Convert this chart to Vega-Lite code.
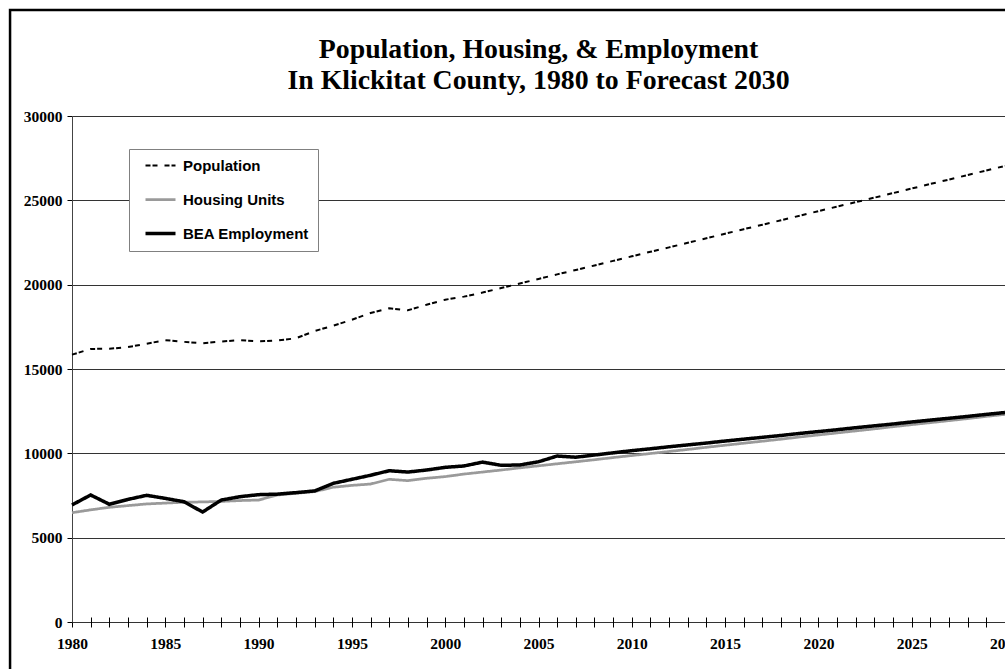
{
  "$schema": "https://vega.github.io/schema/vega-lite/v6.json",
  "width": 933,
  "height": 506,
  "autosize": {"type": "none"},
  "padding": {"left": 72, "top": 116, "right": 0, "bottom": 47},
  "background": "white",
  "title": {
    "text": ["Population, Housing, & Employment", "In Klickitat County, 1980 to Forecast 2030"],
    "font": "Liberation Serif",
    "fontSize": 27.8,
    "fontWeight": "bold",
    "color": "black",
    "anchor": "middle",
    "lineHeight": 31,
    "offset": 0,
    "dy": 86
  },
  "config": {
    "view": {"stroke": null},
    "axis": {
      "labelFont": "Liberation Serif",
      "labelFontWeight": "bold",
      "labelFontSize": 15.5,
      "labelColor": "black",
      "tickColor": "black",
      "domainColor": "#444444",
      "gridColor": "#333333",
      "title": null
    },
    "legend": {
      "orient": "none",
      "legendX": 57,
      "legendY": 33,
      "fillColor": "white",
      "strokeColor": "#808080",
      "padding": 9,
      "labelFont": "Liberation Sans",
      "labelFontWeight": "bold",
      "labelFontSize": 15,
      "labelColor": "black",
      "symbolType": "M0,0H6",
      "symbolSize": 100,
      "rowPadding": 18,
      "labelOffset": 30,
      "title": null
    }
  },
  "data": {
    "values": [
      {"year": 1980, "Population": 15850, "Housing Units": 6480, "BEA Employment": 6940},
      {"year": 1981, "Population": 16190, "Housing Units": 6650, "BEA Employment": 7530},
      {"year": 1982, "Population": 16200, "Housing Units": 6800, "BEA Employment": 6980},
      {"year": 1983, "Population": 16300, "Housing Units": 6900, "BEA Employment": 7270},
      {"year": 1984, "Population": 16500, "Housing Units": 7000, "BEA Employment": 7510},
      {"year": 1985, "Population": 16710, "Housing Units": 7050, "BEA Employment": 7330},
      {"year": 1986, "Population": 16610, "Housing Units": 7100, "BEA Employment": 7130},
      {"year": 1987, "Population": 16530, "Housing Units": 7120, "BEA Employment": 6520},
      {"year": 1988, "Population": 16630, "Housing Units": 7150, "BEA Employment": 7230},
      {"year": 1989, "Population": 16710, "Housing Units": 7200, "BEA Employment": 7430},
      {"year": 1990, "Population": 16640, "Housing Units": 7230, "BEA Employment": 7550},
      {"year": 1991, "Population": 16690, "Housing Units": 7530, "BEA Employment": 7580},
      {"year": 1992, "Population": 16820, "Housing Units": 7630, "BEA Employment": 7670},
      {"year": 1993, "Population": 17250, "Housing Units": 7730, "BEA Employment": 7770},
      {"year": 1994, "Population": 17570, "Housing Units": 7990, "BEA Employment": 8220},
      {"year": 1995, "Population": 17920, "Housing Units": 8100, "BEA Employment": 8460},
      {"year": 1996, "Population": 18320, "Housing Units": 8180, "BEA Employment": 8700},
      {"year": 1997, "Population": 18600, "Housing Units": 8460, "BEA Employment": 8970},
      {"year": 1998, "Population": 18480, "Housing Units": 8380, "BEA Employment": 8890},
      {"year": 1999, "Population": 18810, "Housing Units": 8520, "BEA Employment": 9010},
      {"year": 2000, "Population": 19110, "Housing Units": 8620, "BEA Employment": 9170},
      {"year": 2001, "Population": 19290, "Housing Units": 8770, "BEA Employment": 9250},
      {"year": 2002, "Population": 19530, "Housing Units": 8890, "BEA Employment": 9480},
      {"year": 2003, "Population": 19800, "Housing Units": 9010, "BEA Employment": 9290},
      {"year": 2004, "Population": 20070, "Housing Units": 9140, "BEA Employment": 9310},
      {"year": 2005, "Population": 20340, "Housing Units": 9260, "BEA Employment": 9500},
      {"year": 2006, "Population": 20610, "Housing Units": 9380, "BEA Employment": 9840},
      {"year": 2007, "Population": 20870, "Housing Units": 9500, "BEA Employment": 9770},
      {"year": 2008, "Population": 21140, "Housing Units": 9620, "BEA Employment": 9900},
      {"year": 2009, "Population": 21410, "Housing Units": 9750, "BEA Employment": 10030},
      {"year": 2010, "Population": 21680, "Housing Units": 9870, "BEA Employment": 10160},
      {"year": 2011, "Population": 21950, "Housing Units": 9990, "BEA Employment": 10270},
      {"year": 2012, "Population": 22210, "Housing Units": 10110, "BEA Employment": 10390},
      {"year": 2013, "Population": 22480, "Housing Units": 10230, "BEA Employment": 10500},
      {"year": 2014, "Population": 22750, "Housing Units": 10360, "BEA Employment": 10610},
      {"year": 2015, "Population": 23020, "Housing Units": 10480, "BEA Employment": 10730},
      {"year": 2016, "Population": 23290, "Housing Units": 10600, "BEA Employment": 10840},
      {"year": 2017, "Population": 23550, "Housing Units": 10720, "BEA Employment": 10950},
      {"year": 2018, "Population": 23820, "Housing Units": 10840, "BEA Employment": 11060},
      {"year": 2019, "Population": 24090, "Housing Units": 10970, "BEA Employment": 11180},
      {"year": 2020, "Population": 24360, "Housing Units": 11090, "BEA Employment": 11290},
      {"year": 2021, "Population": 24630, "Housing Units": 11210, "BEA Employment": 11400},
      {"year": 2022, "Population": 24890, "Housing Units": 11330, "BEA Employment": 11520},
      {"year": 2023, "Population": 25160, "Housing Units": 11450, "BEA Employment": 11630},
      {"year": 2024, "Population": 25430, "Housing Units": 11580, "BEA Employment": 11740},
      {"year": 2025, "Population": 25700, "Housing Units": 11700, "BEA Employment": 11860},
      {"year": 2026, "Population": 25970, "Housing Units": 11820, "BEA Employment": 11970},
      {"year": 2027, "Population": 26230, "Housing Units": 11940, "BEA Employment": 12080},
      {"year": 2028, "Population": 26500, "Housing Units": 12060, "BEA Employment": 12190},
      {"year": 2029, "Population": 26770, "Housing Units": 12190, "BEA Employment": 12310},
      {"year": 2030, "Population": 27040, "Housing Units": 12310, "BEA Employment": 12420}
    ]
  },
  "layer": [
    {
      "data": {"values": [{"frame": "border"}]},
      "mark": {"type": "rect", "fill": null, "stroke": "black", "strokeWidth": 2.5, "clip": false},
      "encoding": {
        "x": {"datum": 1976.68, "type": "quantitative"},
        "x2": {"datum": 2040},
        "y": {"datum": 36285, "type": "quantitative"},
        "y2": {"datum": -6000}
      }
    },
    {
      "transform": [
        {"fold": ["Population", "Housing Units", "BEA Employment"], "as": ["series", "value"]}
      ],
      "mark": {"type": "line"},
      "encoding": {
        "x": {
          "field": "year",
          "type": "quantitative",
          "scale": {"domain": [1980, 2030], "nice": false, "zero": false},
          "axis": {
            "values": [1980,1981,1982,1983,1984,1985,1986,1987,1988,1989,1990,1991,1992,1993,1994,1995,1996,1997,1998,1999,2000,2001,2002,2003,2004,2005,2006,2007,2008,2009,2010,2011,2012,2013,2014,2015,2016,2017,2018,2019,2020,2021,2022,2023,2024,2025,2026,2027,2028,2029,2030],
            "tickCount": 100,
            "format": "d",
            "labelExpr": "datum.value % 5 === 0 ? datum.label : ''",
            "labelOverlap": false,
            "labelFlush": false,
            "labelBound": false,
            "domain": false,
            "grid": false,
            "tickSize": 10,
            "offset": -5,
            "labelPadding": 9
          }
        },
        "y": {
          "field": "value",
          "type": "quantitative",
          "scale": {"domain": [0, 30000], "nice": false},
          "axis": {
            "values": [0, 5000, 10000, 15000, 20000, 25000, 30000],
            "format": "d",
            "grid": true,
            "tickSize": 5,
            "labelPadding": 5
          }
        },
        "color": {
          "field": "series",
          "type": "nominal",
          "scale": {"domain": ["Population", "Housing Units", "BEA Employment"], "range": ["#000000", "#9a9a9a", "#000000"]}
        },
        "strokeDash": {
          "field": "series",
          "type": "nominal",
          "scale": {"domain": ["Population", "Housing Units", "BEA Employment"], "range": [[5, 2, 5, 7], [1, 0], [1, 0]]}
        },
        "strokeWidth": {
          "field": "series",
          "type": "nominal",
          "scale": {"domain": ["Population", "Housing Units", "BEA Employment"], "range": [2, 3.5, 2.6]}
        }
      }
    }
  ]
}
